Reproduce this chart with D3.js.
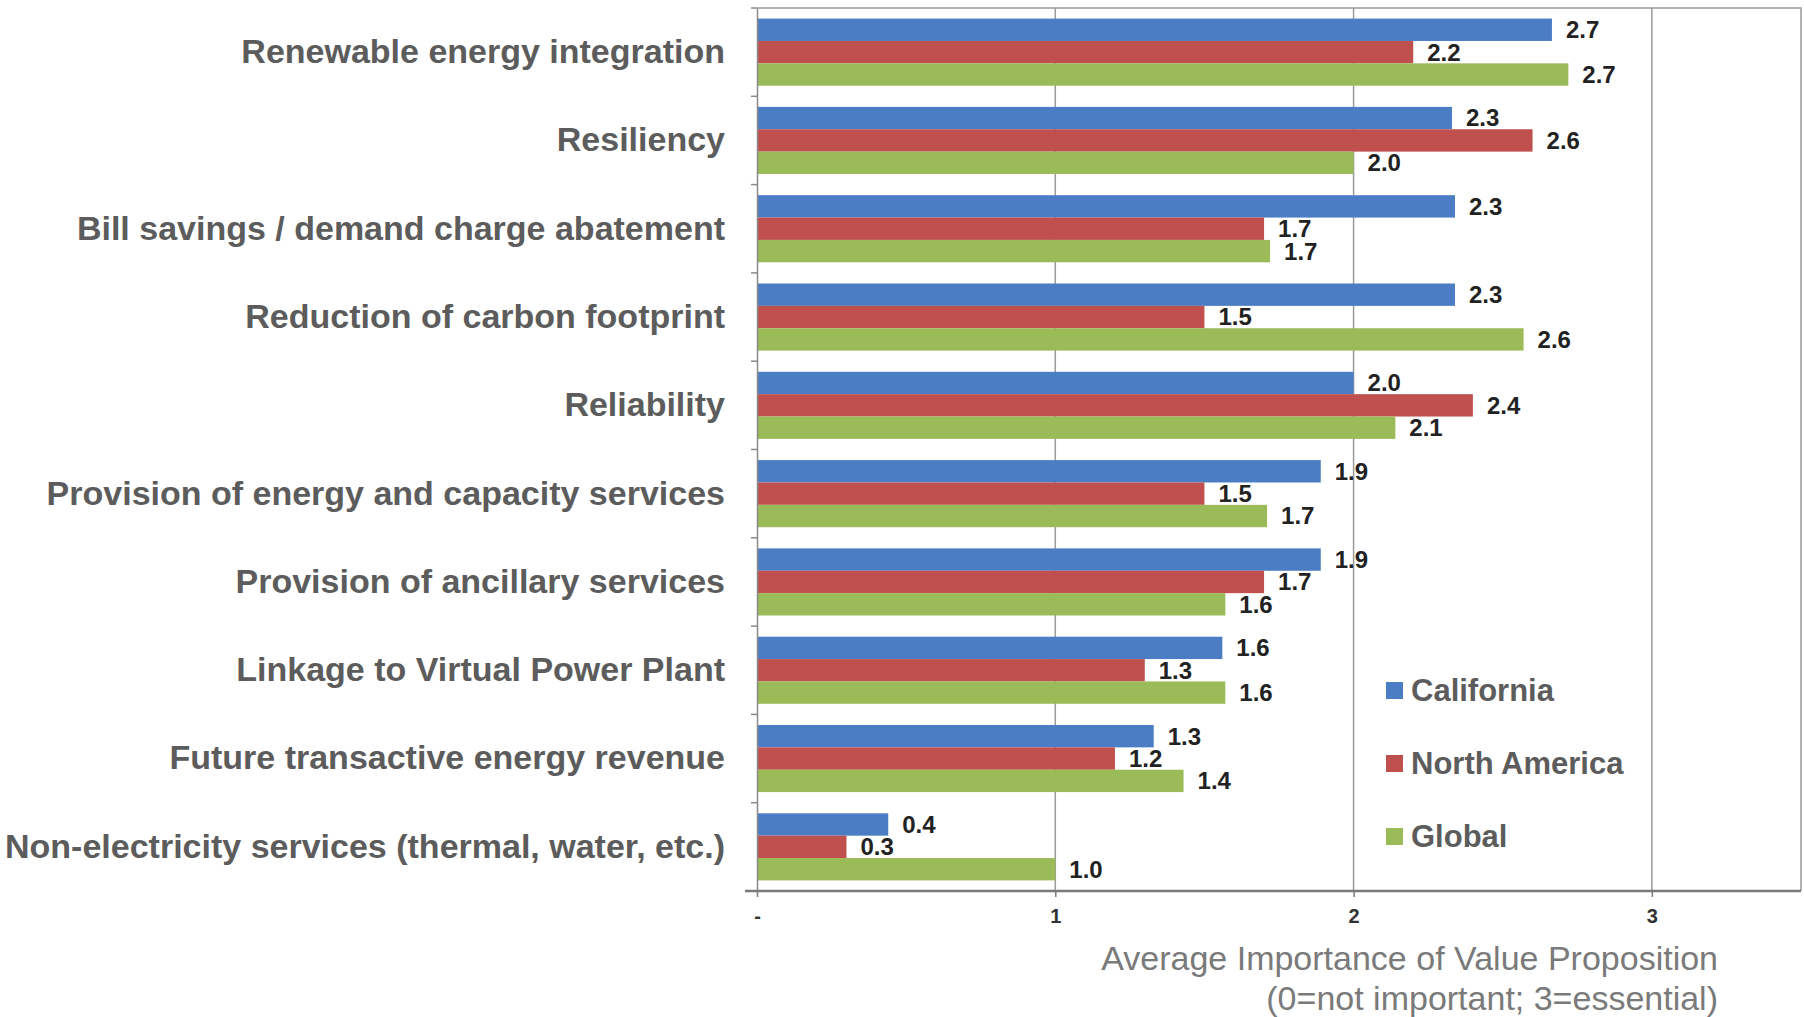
<!DOCTYPE html>
<html>
<head>
<meta charset="utf-8">
<script src="https://cdn.jsdelivr.net/npm/d3@7"></script>
<style>
  body { margin: 0; background: #fff; }
  svg { display: block; font-family: "Liberation Sans", Arial, sans-serif; }
</style>
</head>
<body>
<div id="chart"></div>
<script>
// categories, top to bottom
const categories = [
  "Renewable energy integration",
  "Resiliency",
  "Bill savings / demand charge abatement",
  "Reduction of carbon footprint",
  "Reliability",
  "Provision of energy and capacity services",
  "Provision of ancillary services",
  "Linkage to Virtual Power Plant",
  "Future transactive energy revenue",
  "Non-electricity services (thermal, water, etc.)"
];

const seriesNames = ["California", "North America", "Global"];
const california   = [2.665, 2.33, 2.34, 2.34, 2.00, 1.89, 1.89, 1.56, 1.33, 0.44];
const northAmerica = [2.20, 2.60, 1.70, 1.50, 2.40, 1.50, 1.70, 1.30, 1.20, 0.30];
const global       = [2.72, 2.00, 1.72, 2.57, 2.14, 1.71, 1.57, 1.57, 1.43, 1.00];

const xTicks = [0, 1, 2, 3];
const axisTitle = ["Average Importance of Value Proposition", "(0=not important; 3=essential)"];

const colors = ["#4a7dc4", "#c0504d", "#9bbb59"];
const seriesValues = [california, northAmerica, global];

const W = 1804, H = 1017;
const margin = { left: 757, right: 1801, top: 8, bottom: 891 };

const svg = d3.select("#chart").append("svg")
  .attr("width", W)
  .attr("height", H);

const x = d3.scaleLinear().domain([0, 3.5]).range([margin.left, margin.right]);

const y = d3.scaleBand()
  .domain(categories)
  .range([margin.top, margin.bottom])
  .paddingInner(0.24)
  .paddingOuter(0.12);

const ySub = d3.scaleBand()
  .domain(seriesNames)
  .range([0, y.bandwidth()]);

// vertical gridlines
svg.append("g")
  .selectAll("line")
  .data(xTicks.filter(d => d > 0))
  .join("line")
  .attr("x1", d => x(d)).attr("x2", d => x(d))
  .attr("y1", margin.top).attr("y2", margin.bottom)
  .attr("stroke", "#9a9a9a")
  .attr("stroke-width", 1.5);

// plot frame: top and right
svg.append("path")
  .attr("d", `M${margin.left},${margin.top}H${margin.right}V${margin.bottom}`)
  .attr("fill", "none")
  .attr("stroke", "#999")
  .attr("stroke-width", 1.5);

// bars
const rows = categories.map((c, i) => ({
  cat: c,
  vals: seriesNames.map((s, j) => ({ series: s, value: seriesValues[j][i], color: colors[j] }))
}));

const groups = svg.append("g")
  .selectAll("g")
  .data(rows)
  .join("g")
  .attr("transform", d => `translate(0,${y(d.cat)})`);

groups.selectAll("rect")
  .data(d => d.vals)
  .join("rect")
  .attr("x", x(0))
  .attr("y", d => ySub(d.series))
  .attr("width", d => x(d.value) - x(0))
  .attr("height", ySub.bandwidth())
  .attr("fill", d => d.color);

// data labels
const fmt = d3.format(".1f");
groups.selectAll("text")
  .data(d => d.vals)
  .join("text")
  .attr("x", d => x(d.value) + 14)
  .attr("y", d => ySub(d.series) + ySub.bandwidth() / 2)
  .attr("dy", "0.35em")
  .attr("font-size", 24)
  .attr("font-weight", "bold")
  .attr("fill", "#222")
  .text(d => fmt(d.value));

// y axis with category labels
const yAxis = svg.append("g")
  .attr("transform", `translate(${margin.left},0)`)
  .call(d3.axisLeft(y).tickSize(0).tickSizeOuter(0).tickPadding(32));
yAxis.select(".domain").attr("stroke", "#8a8a8a").attr("stroke-width", 1.5);
yAxis.selectAll("text")
  .attr("font-size", 34)
  .attr("font-weight", "bold")
  .attr("fill", "#5c5c5c")
  .attr("font-family", "'Liberation Sans', Arial, sans-serif");

// boundary ticks between categories
svg.append("g")
  .selectAll("line")
  .data(d3.range(categories.length + 1))
  .join("line")
  .attr("x1", margin.left - 6).attr("x2", margin.left)
  .attr("y1", i => margin.top + i * y.step())
  .attr("y2", i => margin.top + i * y.step())
  .attr("stroke", "#8a8a8a")
  .attr("stroke-width", 1.5);

// x axis
const xAxis = svg.append("g")
  .attr("transform", `translate(0,${margin.bottom})`)
  .call(d3.axisBottom(x)
    .tickValues(xTicks)
    .tickSize(6)
    .tickSizeOuter(0)
    .tickPadding(12)
    .tickFormat(d => d === 0 ? "-" : d));
xAxis.select(".domain")
  .attr("d", `M${margin.left - 12},0H${margin.right}`)
  .attr("stroke", "#7a7a7a")
  .attr("stroke-width", 2.5);
xAxis.selectAll(".tick line").attr("stroke", "#7a7a7a").attr("stroke-width", 1.5);
xAxis.selectAll("text")
  .attr("font-size", 20)
  .attr("font-weight", "bold")
  .attr("fill", "#333")
  .attr("font-family", "'Liberation Sans', Arial, sans-serif");

// axis title
svg.append("text")
  .attr("text-anchor", "end")
  .attr("font-size", 34)
  .attr("fill", "#7a7a7a")
  .selectAll("tspan")
  .data(axisTitle)
  .join("tspan")
  .attr("x", 1718)
  .attr("y", (d, i) => 970 + i * 40)
  .text(d => d);

// legend
const legend = svg.append("g")
  .attr("transform", "translate(1386,682)")
  .selectAll("g")
  .data(seriesNames)
  .join("g")
  .attr("transform", (d, i) => `translate(0,${i * 73})`);
legend.append("rect")
  .attr("width", 17).attr("height", 17)
  .attr("fill", (d, i) => colors[i]);
legend.append("text")
  .attr("x", 25)
  .attr("y", 19)
  .attr("font-size", 31)
  .attr("font-weight", "bold")
  .attr("fill", "#5c5c5c")
  .text(d => d);
</script>
</body>
</html>
